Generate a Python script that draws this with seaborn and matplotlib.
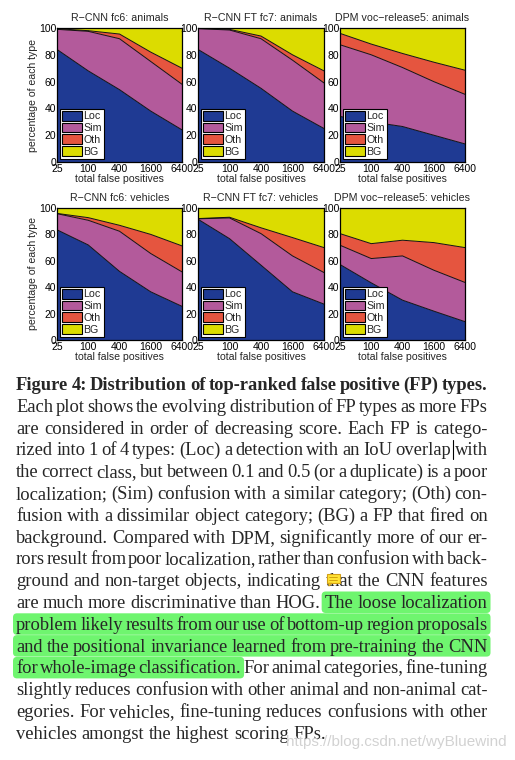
import numpy as np
import pandas as pd
import matplotlib
matplotlib.use("Agg")
import matplotlib.pyplot as plt
import seaborn as sns
from matplotlib.patches import Patch, FancyBboxPatch, Rectangle, Polygon
from matplotlib.lines import Line2D
from matplotlib.transforms import IdentityTransform

sns.set_style("white")
plt.rcParams['font.family'] = ['Liberation Sans', 'DejaVu Sans']

# ---------------- data ----------------
fp_counts = [25, 100, 400, 1600, 6400]
fp_labels = ["25", "100", "400", "1600", "6400"]
type_names = ["Loc", "Sim", "Oth", "BG"]
type_colors = ["#1f3a93", "#b35a9b", "#e5553f", "#dcdc00"]

panel_titles = ["R\u2212CNN fc6: animals", "R\u2212CNN FT fc7: animals", "DPM voc\u2212release5: animals",
                "R\u2212CNN fc6: vehicles", "R\u2212CNN FT fc7: vehicles", "DPM voc\u2212release5: vehicles"]

loc_pct = [[84, 68, 54, 38, 24],
           [84, 70, 55, 38, 25],
           [34, 30, 26.5, 20, 13.5],
           [83.5, 72, 52, 36.5, 25.5],
           [91.5, 76.8, 56.7, 36.5, 27.2],
           [57.2, 43.3, 30.2, 21.9, 13.9]]
sim_pct = [[15, 29.5, 38, 37, 34],
           [15.5, 28.5, 37, 38, 34],
           [53.5, 50, 44, 40, 37],
           [12.2, 18.7, 30.4, 29, 26.1],
           [0.3, 15.7, 23.9, 27.2, 23.9],
           [14.6, 18.4, 33.5, 31, 29.7]]
oth_pct = [[0.5, 0.5, 3.5, 7, 12],
           [0.2, 0.5, 2, 4, 9],
           [8.5, 8, 10.5, 14.5, 18],
           [0.2, 2, 4.5, 14.5, 19.7],
           [0.2, 0.5, 4.4, 13.9, 18.9],
           [8.8, 11.3, 11.9, 20.9, 26.4]]
bg_pct = [[0.5, 2, 4.5, 18, 30],
          [0.3, 1, 6, 20, 32],
          [4, 12, 19, 25.5, 31.5],
          [4.1, 7.3, 13.1, 20, 28.7],
          [8, 7, 15, 22.4, 30],
          [19.4, 27, 24.4, 26.2, 30]]

caption_lines = [
    "Figure 4: Distribution of top-ranked false positive (FP) types.",
    "Each plot shows the evolving distribution of FP types as more FPs",
    "are considered in order of decreasing score.  Each FP is catego-",
    "rized into 1 of 4 types: (Loc) a detection with an IoU overlap with",
    "the correct class, but between 0.1 and 0.5 (or a duplicate) is a poor",
    "localization; (Sim) confusion with a similar category; (Oth) con-",
    "fusion with a dissimilar object category; (BG) a FP that fired on",
    "background.  Compared with DPM, significantly more of our er-",
    "rors result from poor localization, rather than confusion with back-",
    "ground and non-target objects, indicating that the CNN features",
    "are much more discriminative than HOG. The loose localization",
    "problem likely results from our use of bottom-up region proposals",
    "and the positional invariance learned from pre-training the CNN",
    "for whole-image classification. For animal categories, fine-tuning",
    "slightly reduces confusion with other animal and non-animal cat-",
    "egories.  For vehicles, fine-tuning reduces confusions with other",
    "vehicles amongst the highest scoring FPs.",
]
# (line index, first highlighted word, last highlighted word exclusive)
highlights = [(10, 6, None), (11, 0, None), (12, 0, None), (13, 0, 3)]
watermark = "https://blog.csdn.net/wyBluewind"

# ---------------- layout ----------------
W, H = 515, 760
fig = plt.figure(figsize=(W / 100, H / 100), dpi=100)
fig.patch.set_facecolor("white")

col_x = [(57, 182), (198, 324), (340, 465)]
row_y = [(28, 162), (208, 340)]

def add_ax(c, r):
    x0, x1 = col_x[c]
    y0, y1 = row_y[r]
    return fig.add_axes([x0 / W, 1 - y1 / H, (x1 - x0) / W, (y1 - y0) / H])

fs = 7.5
for i in range(6):
    r, c = divmod(i, 3)
    ax = add_ax(c, r)
    ax.set_xscale("log")
    layers = [loc_pct[i], sim_pct[i], oth_pct[i], bg_pct[i]]
    ax.stackplot(fp_counts, *layers, colors=type_colors, edgecolor="none", linewidth=0)
    cum = np.cumsum(np.array(layers), axis=0)
    rows = []
    for k in range(3):
        for xv, yv in zip(fp_counts, cum[k]):
            rows.append({"fp": xv, "top": yv, "layer": type_names[k]})
    df = pd.DataFrame(rows)
    sns.lineplot(data=df, x="fp", y="top", units="layer", estimator=None,
                 color="#111111", linewidth=0.7, ax=ax, legend=False)
    ax.set_xlim(25, 6400)
    ax.set_ylim(0, 100)
    ax.set_xticks(fp_counts)
    ax.set_xticklabels(fp_labels)
    ax.set_yticks([0, 20, 40, 60, 80, 100])
    ax.minorticks_off()
    ax.tick_params(direction="in", length=2.5, width=0.5, labelsize=fs, pad=1.2,
                   top=True, right=True, colors="black")
    ax.tick_params(axis="y", pad=0.5)
    for s in ax.spines.values():
        s.set_color("black")
        s.set_linewidth(0.9)
        s.set_zorder(5)
    ax.set_title(panel_titles[i], fontsize=fs + 0.2, pad=5)
    ax.set_xlabel("total false positives", fontsize=fs + 0.1, labelpad=0)
    if c == 0:
        ax.set_ylabel("percentage of each type", fontsize=fs + 0.1, labelpad=1)
    else:
        ax.set_ylabel("")
    handles = [Patch(facecolor=col, edgecolor="black", linewidth=0.8) for col in type_colors]
    leg = ax.legend(handles, type_names, loc="lower left", fontsize=fs + 0.2,
                    frameon=True, fancybox=False, edgecolor="black", framealpha=1,
                    handlelength=1.8, handleheight=1.0, handletextpad=0.15,
                    labelspacing=0.12, borderpad=0.2, borderaxespad=0.3)
    leg.get_frame().set_linewidth(0.8)
    leg.set_zorder(6)

# ---------------- caption text ----------------
renderer = fig.canvas.get_renderer()
cap_fs = 13.3
x_left, x_right = 16.0, 487.5
base0, step = 390.0, 21.8
word_boxes = {}

for li, line in enumerate(caption_lines):
    words = line.split()
    bold = li == 0
    ypx = base0 + li * step
    texts, widths = [], []
    for w in words:
        t = fig.text(0, 1 - ypx / H, w, fontsize=cap_fs, family=["Liberation Serif", "DejaVu Serif"],
                     fontweight="bold" if bold else "normal", va="baseline", ha="left", zorder=3)
        bb = t.get_window_extent(renderer)
        texts.append(t)
        widths.append(bb.width)
    justify = li != len(caption_lines) - 1
    if justify and len(words) > 1:
        gap = (x_right - x_left - sum(widths)) / (len(words) - 1)
    else:
        gap = cap_fs * 100 / 72 * 0.25
    x = x_left
    boxes = []
    for t, wdt in zip(texts, widths):
        t.set_x(x / W)
        boxes.append((x, x + wdt))
        x += wdt + gap
    word_boxes[li] = (boxes, ypx)

# highlight boxes (display pixel coords, origin bottom-left)
for li, a, b in highlights:
    boxes, ypx = word_boxes[li]
    sel = boxes[a:b]
    xa = sel[0][0] - 3
    xb = sel[-1][1] + 3
    top = ypx - 16.5
    bot = ypx + 5.0
    patch = FancyBboxPatch((xa, H - bot), xb - xa, bot - top,
                           boxstyle="round,pad=0,rounding_size=4",
                           facecolor="#6ff56f", edgecolor="none",
                           transform=IdentityTransform(), zorder=1)
    fig.add_artist(patch)

# comment icon over "that" (line 9)
boxes9, y9 = word_boxes[9]
words9 = caption_lines[9].split()
idx_that = words9.index("that")
ix = boxes9[idx_that][0] + 1.5
iy = H - (y9 - 3)
icon = Rectangle((ix, iy), 13, 9, facecolor="#ffe234", edgecolor="#d4a017",
                 linewidth=0.8, transform=IdentityTransform(), zorder=4)
fig.add_artist(icon)
tail = Polygon([[ix + 2, iy], [ix + 5, iy], [ix + 2, iy - 3]], closed=True,
               facecolor="#ffe234", edgecolor="#d4a017", linewidth=0.6,
               transform=IdentityTransform(), zorder=4)
fig.add_artist(tail)
for k in range(2):
    yy = iy + 3 + k * 3
    fig.add_artist(Line2D([ix + 2.5, ix + 10.5], [yy, yy], color="#c08a00", linewidth=0.5,
                          transform=IdentityTransform(), zorder=5))

# text cursor before "with" on line 3
boxes3, y3 = word_boxes[3]
cx = boxes3[-1][0] - 1.5
fig.add_artist(Line2D([cx, cx], [H - (y3 + 4), H - (y3 - 15)], color="black", linewidth=0.8,
                      transform=IdentityTransform(), zorder=5))

# watermark
fig.text(507 / W, 1 - 742 / H, watermark, fontsize=11, color="#d2d2d2",
         family=["Liberation Sans", "DejaVu Sans"], ha="right", va="center", zorder=6)

fig.savefig("out.png", dpi=100)
